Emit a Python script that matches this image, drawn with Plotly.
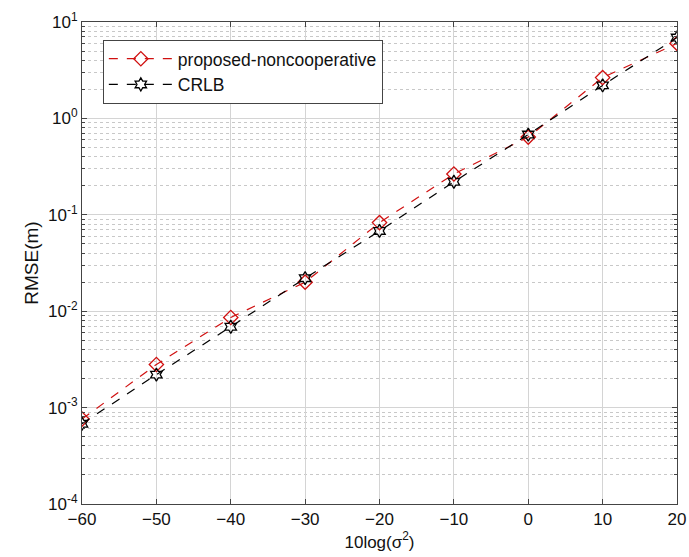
import plotly.graph_objects as go

# Werte
snr_db = [-60, -50, -40, -30, -20, -10, 0, 10, 20]
rmse_proposed = [7.6e-4, 2.8e-3, 8.6e-3, 0.020, 0.083, 0.265, 0.64, 2.65, 6.0]
rmse_crlb = [6.8e-4, 2.2e-3, 6.9e-3, 0.022, 0.068, 0.22, 0.68, 2.2, 6.9]

y_ticks = [1e-4, 1e-3, 1e-2, 1e-1, 1e0, 1e1]
y_ticktext = ["10<sup>-4</sup>", "10<sup>-3</sup>", "10<sup>-2</sup>",
              "10<sup>-1</sup>", "10<sup>0</sup>", "10<sup>1</sup>"]
x_ticks = [-60, -50, -40, -30, -20, -10, 0, 10, 20]

fig = go.Figure()
fig.add_trace(go.Scatter(
    x=snr_db, y=rmse_proposed, mode='lines+markers', name='proposed-noncooperative',
    line=dict(color='#d01010', dash='dash', width=1.2),
    marker=dict(symbol='diamond-open', size=11, color='#d01010', line=dict(width=1.3)),
))
fig.add_trace(go.Scatter(
    x=snr_db, y=rmse_crlb, mode='lines+markers', name='CRLB',
    line=dict(color='black', dash='dash', width=1.2),
    marker=dict(symbol='hexagram-open', size=10, color='black', line=dict(width=1.3)),
))

axis_font = dict(family='Liberation Sans, Arial', size=17, color='#111')

fig.update_xaxes(
    range=[-60, 20], tickvals=x_ticks, ticks='inside', ticklen=5,
    showgrid=True, gridcolor='#d4d4d4', gridwidth=1,
    showline=True, linecolor='#444', linewidth=1, mirror='ticks',
    zeroline=False, tickfont=axis_font, automargin=False,
    title=dict(text='10log(σ<sup>2</sup>)', font=dict(family='Liberation Sans, Arial', size=17, color='#111'),
               standoff=0),
)
fig.update_yaxes(
    type='log', range=[-4, 1], tickvals=y_ticks, ticktext=y_ticktext,
    ticks='inside', ticklen=5,
    showgrid=True, gridcolor='#d4d4d4', gridwidth=1,
    minor=dict(dtick='D1', showgrid=True, griddash='dot', gridcolor='#c8c8c8',
               ticks='inside', ticklen=3, tickcolor='#444'),
    showline=True, linecolor='#444', linewidth=1, mirror='ticks',
    zeroline=False, tickfont=axis_font, automargin=False,
    title=dict(text='RMSE(m)', font=dict(family='Liberation Sans, Arial', size=19, color='#111'),
               standoff=4),
)

fig.update_layout(
    width=689, height=557,
    margin=dict(l=82, r=12, t=22, b=53),
    plot_bgcolor='white', paper_bgcolor='white',
    legend=dict(
        x=0.035, y=0.963, xanchor='left', yanchor='top',
        bgcolor='white', bordercolor='#444', borderwidth=1,
        font=dict(family='Liberation Sans, Arial', size=17.5, color='#111'),
        itemwidth=64, tracegroupgap=2,
    ),
    showlegend=True,
)

# Seitenrand entfernen, damit die Grafik genau ins Fenster passt
fig.write_html("out.html", config={'displayModeBar': False},
               post_script="document.body.style.margin='0';")
